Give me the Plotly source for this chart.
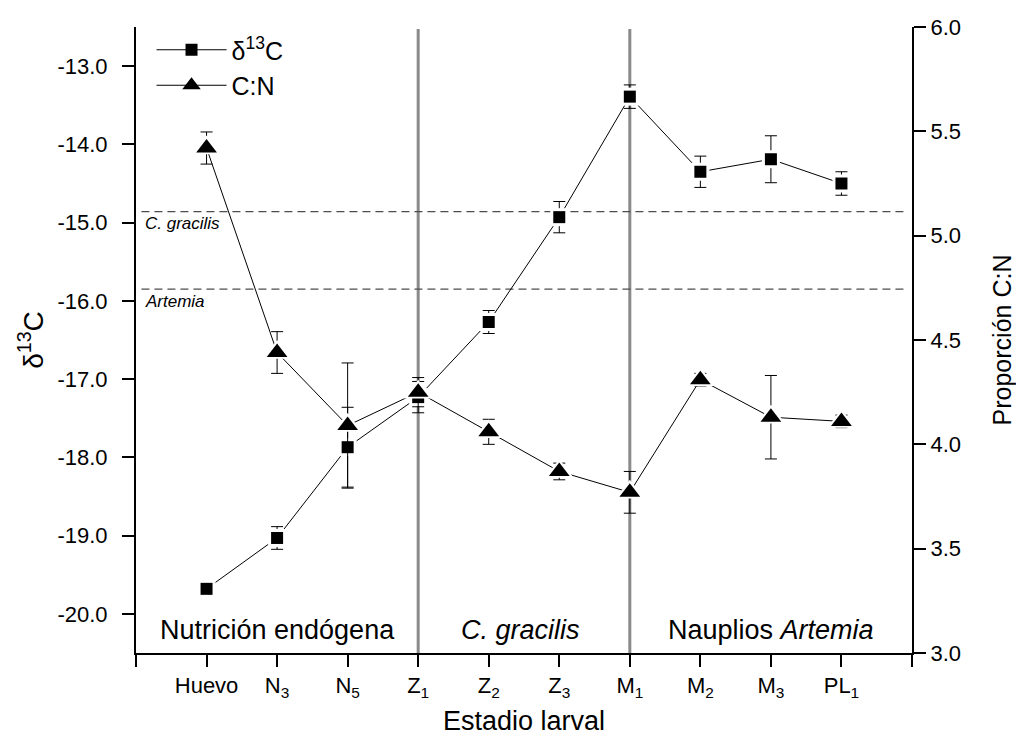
import plotly.graph_objects as go

# ---- data ----
stages = ["Huevo", "N<sub>3</sub>", "N<sub>5</sub>", "Z<sub>1</sub>", "Z<sub>2</sub>",
          "Z<sub>3</sub>", "M<sub>1</sub>", "M<sub>2</sub>", "M<sub>3</sub>", "PL<sub>1</sub>"]
d13c = [-19.68, -19.03, -17.87, -17.23, -16.27, -14.93, -13.39, -14.35, -14.19, -14.50]
d13c_err = [0.05, 0.145, 0.51, 0.20, 0.147, 0.20, 0.15, 0.20, 0.30, 0.15]
cn = [5.42, 4.44, 4.09, 4.25, 4.06, 3.87, 3.77, 4.31, 4.13, 4.11]
cn_err = [0.077, 0.10, 0.30, 0.07, 0.06, 0.04, 0.10, 0.03, 0.20, 0.03]

ref_gracilis = -14.86
ref_artemia = -15.85
phase_bounds = [3, 6]  # Z1, M1
phase_labels = ["Nutrición endógena", "<i>C. gracilis</i>", "Nauplios <i>Artemia</i>"]
phase_label_x = [1.0, 4.45, 8.0]

left_ticks = [-13, -14, -15, -16, -17, -18, -19, -20]
right_ticks = [3.0, 3.5, 4.0, 4.5, 5.0, 5.5, 6.0]

FONT = "Liberation Sans, Arial, sans-serif"
xs = list(range(len(stages)))

fig = go.Figure()

# series lines + error bars (these entries also make the legend)
fig.add_trace(go.Scatter(
    x=xs, y=d13c, name="δ<sup>13</sup>C", mode="lines+markers",
    line=dict(color="black", width=1),
    marker=dict(symbol="square", size=12, color="black"),
    error_y=dict(type="data", array=d13c_err, color="black", thickness=1, width=6),
))
fig.add_trace(go.Scatter(
    x=xs, y=cn, name="C:N", mode="lines+markers", yaxis="y2",
    line=dict(color="black", width=1),
    marker=dict(symbol="triangle-up", size=18, color="black"),
    error_y=dict(type="data", array=cn_err, color="black", thickness=1, width=6),
))
# white halo + black markers on top (gap around markers, as in the original)
fig.add_trace(go.Scatter(x=xs, y=d13c, mode="markers", showlegend=False, hoverinfo="skip",
                         marker=dict(symbol="square", size=18, color="white")))
fig.add_trace(go.Scatter(x=xs, y=d13c, mode="markers", showlegend=False,
                         marker=dict(symbol="square", size=12, color="black")))
fig.add_trace(go.Scatter(x=xs, y=cn, mode="markers", showlegend=False, hoverinfo="skip", yaxis="y2",
                         marker=dict(symbol="triangle-up", size=25, color="white")))
fig.add_trace(go.Scatter(x=xs, y=cn, mode="markers", showlegend=False, yaxis="y2",
                         marker=dict(symbol="triangle-up", size=18, color="black")))

shapes = []
for b in phase_bounds:
    shapes.append(dict(type="line", xref="x", yref="paper", x0=b, x1=b, y0=0, y1=0.997,
                       line=dict(color="#8a8a8a", width=3), layer="below"))
for v in [ref_gracilis, ref_artemia]:
    shapes.append(dict(type="line", xref="paper", yref="y", x0=0.007, x1=0.995, y0=v, y1=v,
                       line=dict(color="#4d4d4d", width=1.2, dash="8px,5px"), layer="below"))

annotations = []
for lab, px in zip(phase_labels, phase_label_x):
    annotations.append(dict(x=px, y=-20.2, xref="x", yref="y", text=lab, showarrow=False,
                            font=dict(size=27, color="black", family=FONT)))
annotations.append(dict(x=0.009, y=ref_gracilis - 0.01, xref="paper", yref="y", text="<i>C. gracilis</i>",
                        showarrow=False, xanchor="left", yanchor="top",
                        font=dict(size=17, color="black", family=FONT)))
annotations.append(dict(x=0.009, y=ref_artemia - 0.01, xref="paper", yref="y", text="<i>Artemia</i>",
                        showarrow=False, xanchor="left", yanchor="top",
                        font=dict(size=17, color="black", family=FONT)))

# page body adds an 8px offset, so the figure is 1008x728 with margins shifted accordingly
fig.update_layout(
    width=1008, height=728,
    margin=dict(l=128, r=104, t=19, b=83, autoexpand=False),
    paper_bgcolor="white", plot_bgcolor="white",
    font=dict(family=FONT, color="black", size=20),
    showlegend=True,
    legend=dict(x=0.02, y=1.0, xanchor="left", yanchor="top", bgcolor="rgba(0,0,0,0)",
                font=dict(size=25, family=FONT), itemwidth=70, tracegroupgap=0),
    xaxis=dict(range=[-1, 10], tickmode="array", tickvals=[-1] + xs + [10],
               ticktext=[""] + stages + [""], ticks="outside", ticklen=12, tickwidth=2,
               tickcolor="black", showline=True, linecolor="black", linewidth=2,
               showgrid=False, zeroline=False, tickfont=dict(size=22),
               automargin=False,
               title=dict(text="Estadio larval", font=dict(size=27), standoff=20)),
    yaxis=dict(range=[-20.5, -12.5], tickmode="array", tickvals=left_ticks,
               ticktext=[f"{t:.1f}" for t in left_ticks], ticks="outside", ticklen=12, tickwidth=2,
               tickcolor="black", showline=True, linecolor="black", linewidth=2,
               showgrid=False, zeroline=False, tickfont=dict(size=22), ticklabelstandoff=10,
               automargin=False,
               title=dict(text="δ<sup>13</sup>C", font=dict(size=28), standoff=6)),
    yaxis2=dict(range=[3, 6], overlaying="y", side="right", tickmode="array", tickvals=right_ticks,
                ticktext=[f"{t:.1f}" for t in right_ticks], ticks="outside", ticklen=12, tickwidth=2,
                tickcolor="black", showline=True, linecolor="black", linewidth=2,
                showgrid=False, zeroline=False, tickfont=dict(size=22),
                automargin=False,
                title=dict(text="Proporción C:N", font=dict(size=25), standoff=34)),
    shapes=shapes,
    annotations=annotations,
)

fig.write_html("out.html")
